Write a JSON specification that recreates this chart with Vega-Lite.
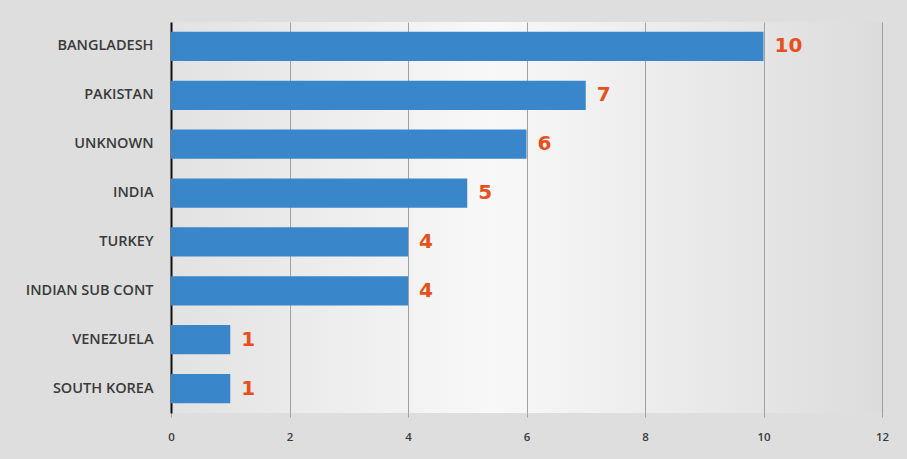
{
  "$schema": "https://vega.github.io/schema/vega-lite/v6.json",
  "width": 711,
  "height": 391,
  "autosize": {"type": "none"},
  "padding": {"left": 171, "top": 22, "right": 25, "bottom": 46},
  "background": "#dedede",
  "data": {"values": [
    {"country": "BANGLADESH", "count": 10},
    {"country": "PAKISTAN", "count": 7},
    {"country": "UNKNOWN", "count": 6},
    {"country": "INDIA", "count": 5},
    {"country": "TURKEY", "count": 4},
    {"country": "INDIAN SUB CONT", "count": 4},
    {"country": "VENEZUELA", "count": 1},
    {"country": "SOUTH KOREA", "count": 1}
  ]},
  "encoding": {
    "y": {"field": "country", "type": "nominal", "sort": null, "title": null,
      "scale": {"paddingInner": 0.4, "paddingOuter": 0.2},
      "axis": {"domain": true, "domainColor": "#111111", "domainWidth": 2, "ticks": false, "labelPadding": 18, "labelFont": "Open Sans", "labelFontSize": 14.5, "labelFontWeight": 600, "labelColor": "#3a3a3a", "grid": false}},
    "x": {"field": "count", "type": "quantitative", "title": null,
      "scale": {"domain": [0, 12], "nice": false},
      "axis": {"values": [0, 2, 4, 6, 8, 10, 12], "labelFlush": false, "domain": false, "grid": true, "gridColor": "#a0a0a0", "gridWidth": 1, "ticks": true, "tickColor": "#a0a0a0", "tickSize": 4, "labelPadding": 14, "labelFont": "Open Sans", "labelFontSize": 11.5, "labelFontWeight": 600, "labelColor": "#3a3a3a"}}
  },
  "layer": [
    {"mark": {"type": "bar", "color": "#3a86cb"}},
    {"mark": {"type": "text", "align": "left", "dx": 11, "font": "DejaVu Sans", "fontSize": 20, "fontWeight": "bold", "color": "#e5501c"},
     "encoding": {"text": {"field": "count", "type": "quantitative"}}}
  ],
  "config": {
    "view": {"stroke": null, "fill": {"gradient": "linear", "x1": 0, "y1": 0, "x2": 1, "y2": 0, "stops": [{"offset": 0, "color": "#e2e2e2"}, {"offset": 0.45, "color": "#f8f8f8"}, {"offset": 1, "color": "#dcdcdc"}]}}
  }
}
